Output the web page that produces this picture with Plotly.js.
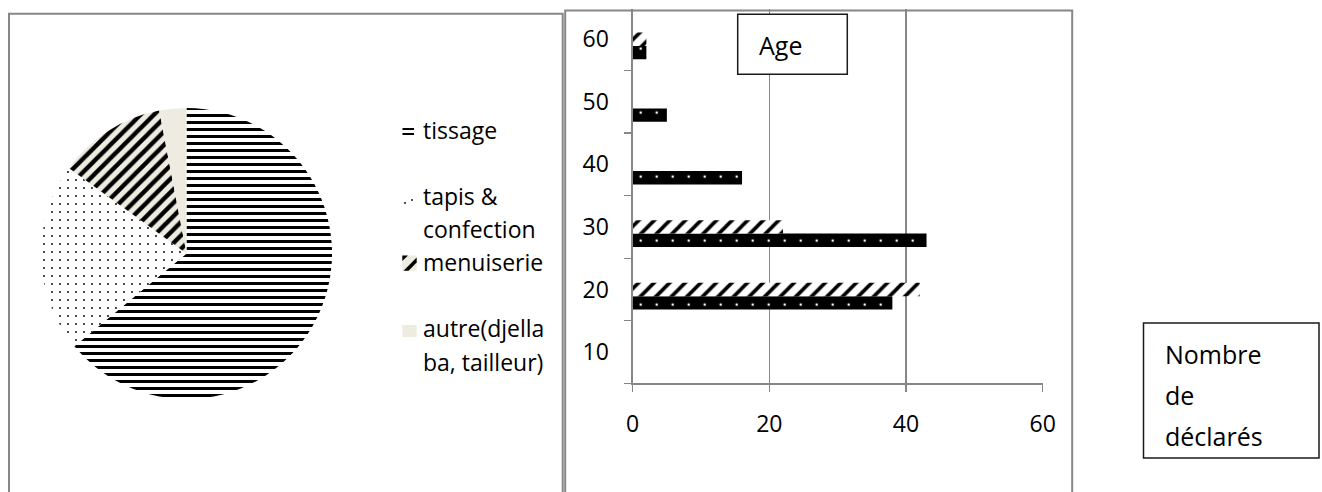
<!DOCTYPE html>
<html><head><meta charset="utf-8">
<script src="https://cdn.plot.ly/plotly-3.0.1.min.js"></script>
<style>html,body{margin:0;padding:0;background:#fff}#chart{width:1322px;height:492px}</style>
</head><body><div id="chart"></div>
<script>
// ---- Pie data ----
const pieLabels = ["tissage", "tapis & confection", "menuiserie", "autre(djellaba, tailleur)"];
const pieValues = [64, 21, 12, 3];
// legend text as it is wrapped in the picture
const legendLines = [["tissage"], ["tapis &", "confection"], ["menuiserie"], ["autre(djella", "ba, tailleur)"]];

// ---- Bar data ----
const ageCategories = ["10", "20", "30", "40", "50", "60"];
const serie1 = [null, 38, 43, 16, 5, 2];
const serie2 = [null, 42, 22, null, null, 2];
const serie3 = [null, null, null, null, null, null];
const xTickValues = [0, 20, 40, 60];

const boxAge = "Age";
const boxCount = ["Nombre", "de", "déclarés"];

// ---- helpers (pixel -> paper) ----
const W = 1322, H = 492;
const px = x => x / W;
const py = y => 1 - y / H;
const FONT = "Open Sans, Noto Sans, sans-serif";
const GREY = "#878787";
const BEIGE = "#EEECE1";

const pie = {
  type: "pie",
  labels: pieLabels,
  values: pieValues,
  sort: false,
  direction: "clockwise",
  rotation: 0,
  textinfo: "none",
  hoverinfo: "label+percent",
  domain: {x: [px(41), px(332)], y: [py(399), py(108)]},
  marker: {
    colors: ["#ffffff", "#ffffff", BEIGE, BEIGE],
    line: {width: 0},
    pattern: {
      shape: ["-", ".", "/", ""],
      fgcolor: ["#000000", "#000000", "#000000", "#000000"],
      bgcolor: ["#ffffff", "#ffffff", BEIGE, BEIGE],
      size: [7, 8, 9.5, 8],
      solidity: [0.43, 0.045, 0.45, 0.1],
      fillmode: "replace"
    }
  },
  showlegend: false
};

const bar1 = {
  type: "bar", orientation: "h", name: "Série1",
  y: ageCategories, x: serie1,
  marker: {color: "#000000", line: {width: 0},
    pattern: {shape: ".", fgcolor: "#ffffff", bgcolor: "#000000", size: 16, solidity: 0.02, fillmode: "replace"}},
  xaxis: "x", yaxis: "y", showlegend: false
};
const bar2 = {
  type: "bar", orientation: "h", name: "Série2",
  y: ageCategories, x: serie2,
  marker: {color: "#ffffff", line: {width: 0},
    pattern: {shape: "/", fgcolor: "#000000", bgcolor: "#ffffff", size: 11, solidity: 0.33, fillmode: "replace"}},
  xaxis: "x", yaxis: "y", showlegend: false
};
const bar3 = {
  type: "bar", orientation: "h", name: "Série3",
  y: ageCategories, x: serie3,
  marker: {color: "#888888", line: {width: 0}},
  xaxis: "x", yaxis: "y", showlegend: false
};

const shapes = [];
const annotations = [];

// panel borders
shapes.push({type: "rect", xref: "paper", yref: "paper", x0: px(9), x1: px(562.7), y0: py(500), y1: py(13.7),
  line: {color: GREY, width: 2}, fillcolor: "rgba(0,0,0,0)", layer: "above"});
shapes.push({type: "rect", xref: "paper", yref: "paper", x0: px(565.2), x1: px(1072.2), y0: py(500), y1: py(10.5),
  line: {color: GREY, width: 2}, fillcolor: "rgba(0,0,0,0)", layer: "above"});

// "Age" box
shapes.push({type: "rect", xref: "paper", yref: "paper", x0: px(737.7), x1: px(847.3), y0: py(74.3), y1: py(14.3),
  line: {color: "#1a1a1a", width: 1.5}, fillcolor: "#ffffff", layer: "above"});
annotations.push({xref: "paper", yref: "paper", x: px(757), y: py(44.5), xanchor: "left", yanchor: "middle",
  text: boxAge, showarrow: false, font: {family: FONT, size: 25, color: "#000"}});

// "Nombre de déclarés" box
shapes.push({type: "rect", xref: "paper", yref: "paper", x0: px(1143.5), x1: px(1319), y0: py(458), y1: py(323),
  line: {color: "#1a1a1a", width: 1.5}, fillcolor: "#ffffff", layer: "above"});
const countBaselines = [363, 404, 445];
boxCount.forEach((t, i) => annotations.push({xref: "paper", yref: "paper", x: px(1163), y: py(countBaselines[i] - 8.8),
  xanchor: "left", yanchor: "middle", text: t, showarrow: false, font: {family: FONT, size: 25, color: "#000"}}));

// legend of the pie (text + small keys)
const legendBaselines = [[138], [204, 237], [270], [336, 370]];
legendLines.forEach((lines, i) => lines.forEach((t, j) => annotations.push({
  xref: "paper", yref: "paper", x: px(421), y: py(legendBaselines[i][j] - 8), xanchor: "left", yanchor: "middle",
  text: t, showarrow: false, font: {family: FONT, size: 23, color: "#000"}})));
// key: tissage (horizontal lines)
[129, 134].forEach(yy => shapes.push({type: "line", xref: "paper", yref: "paper", x0: px(402.5), x1: px(414), y0: py(yy), y1: py(yy),
  line: {color: "#000", width: 2}}));
// key: tapis (dots)
[[405, 203], [412, 200]].forEach(p => shapes.push({type: "circle", xref: "paper", yref: "paper",
  x0: px(p[0] - 0.9), x1: px(p[0] + 0.9), y0: py(p[1] + 0.9), y1: py(p[1] - 0.9), fillcolor: "#000", line: {width: 0}}));
// key: menuiserie (beige with diagonal)
shapes.push({type: "rect", xref: "paper", yref: "paper", x0: px(402.3), x1: px(416.7), y0: py(270.7), y1: py(255.5),
  fillcolor: BEIGE, line: {width: 0}});
shapes.push({type: "path", xref: "paper", yref: "paper",
  path: `M${px(403.5)},${py(270.7)} L${px(416.7)},${py(257.5)} L${px(416.7)},${py(262.5)} L${px(408.5)},${py(270.7)} Z`,
  fillcolor: "#000", line: {width: 0}});
shapes.push({type: "path", xref: "paper", yref: "paper",
  path: `M${px(402.3)},${py(255.5)} L${px(408)},${py(255.5)} L${px(402.3)},${py(261)} Z`,
  fillcolor: "#000", line: {width: 0}});
// key: autre (beige)
shapes.push({type: "rect", xref: "paper", yref: "paper", x0: px(402.3), x1: px(416.7), y0: py(337), y1: py(325),
  fillcolor: BEIGE, line: {width: 0}});

const layout = {
  width: W, height: H,
  margin: {l: 0, r: 0, t: 0, b: 0},
  paper_bgcolor: "#ffffff", plot_bgcolor: "#ffffff",
  showlegend: false,
  barmode: "group", bargap: 0.36, bargroupgap: 0,
  font: {family: FONT, size: 23, color: "#000"},
  xaxis: {
    domain: [px(632.7), px(1042.7)], range: [0, 60], tickvals: xTickValues,
    showgrid: true, gridcolor: GREY, gridwidth: 1.3, zeroline: false,
    showline: true, linecolor: GREY, linewidth: 1.3,
    ticks: "outside", ticklen: 7, tickcolor: GREY, tickwidth: 1.3,
    ticklabelstandoff: 13,
    tickfont: {family: FONT, size: 23, color: "#000"}, fixedrange: true
  },
  yaxis: {
    type: "category", categoryorder: "array", categoryarray: ageCategories,
    domain: [py(383.3), py(8.6)], range: [-0.5, 5.49],
    showgrid: false, zeroline: false,
    showline: true, linecolor: GREY, linewidth: 1.3,
    ticks: "outside", tickson: "boundaries", ticklen: 7, tickcolor: GREY, tickwidth: 1.3,
    ticklabelstandoff: 18,
    tickfont: {family: FONT, size: 23, color: "#000"}, fixedrange: true
  },
  shapes: shapes,
  annotations: annotations
};

Plotly.newPlot("chart", [pie, bar1, bar2, bar3], layout, {staticPlot: true, displayModeBar: false});
</script>
</body></html>
